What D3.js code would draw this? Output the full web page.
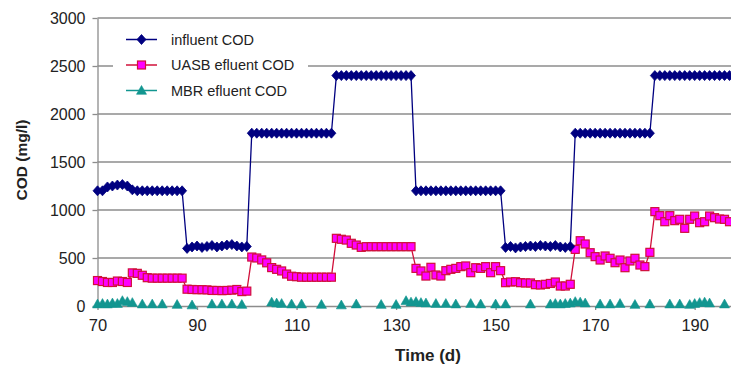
<!DOCTYPE html>
<html>
<head>
<meta charset="utf-8">
<script src="https://cdn.jsdelivr.net/npm/d3@7"></script>
<style>
  body { margin: 0; background: #fff; }
  svg { display: block; font-family: Arial, "Liberation Sans", sans-serif; }
</style>
</head>
<body>
<div id="chart"></div>
<script>
// days (x categories)
const days = [
  70, 71, 72, 73, 74, 75, 76, 77, 78, 79, 80, 81, 82, 83, 84, 85, 86, 87, 88, 89,
  90, 91, 92, 93, 94, 95, 96, 97, 98, 99, 100, 101, 102, 103, 104, 105, 106, 107, 108, 109,
  110, 111, 112, 113, 114, 115, 116, 117, 118, 119, 120, 121, 122, 123, 124, 125, 126, 127, 128, 129,
  130, 131, 132, 133, 134, 135, 136, 137, 138, 139, 140, 141, 142, 143, 144, 145, 146, 147, 148, 149,
  150, 151, 152, 153, 154, 155, 156, 157, 158, 159, 160, 161, 162, 163, 164, 165, 166, 167, 168, 169,
  170, 171, 172, 173, 174, 175, 176, 177, 178, 179, 180, 181, 182, 183, 184, 185, 186, 187, 188, 189,
  190, 191, 192, 193, 194, 195, 196, 197
];

const influent = [
  1200, 1200, 1240, 1250, 1260, 1265, 1250, 1210,
  1200, 1200, 1200, 1200, 1200, 1200, 1200, 1200, 1200, 1200,
  600, 615, 625, 610, 620, 630, 615, 625, 635, 640, 625, 615, 620,
  1800, 1800, 1800, 1800, 1800, 1800, 1800, 1800, 1800, 1800, 1800, 1800, 1800, 1800, 1800, 1800, 1800,
  2400, 2400, 2400, 2400, 2400, 2400, 2400, 2400, 2400, 2400, 2400, 2400, 2400, 2400, 2400, 2400,
  1200, 1200, 1200, 1200, 1200, 1200, 1200, 1200, 1200, 1200, 1200, 1200, 1200, 1200, 1200, 1200, 1200, 1200,
  610, 620, 605, 615, 620, 625, 620, 630, 625, 620, 630, 615, 610, 620,
  1800, 1800, 1800, 1800, 1800, 1800, 1800, 1800, 1800, 1800, 1800, 1800, 1800, 1800, 1800, 1800,
  2400, 2400, 2400, 2400, 2400, 2400, 2400, 2400, 2400, 2400, 2400, 2400, 2400, 2400, 2400, 2400
];

const uasb = [
  265, 255, 245, 245, 260, 255, 245,
  345, 340, 320, 295, 290, 290, 290, 290, 290, 290, 290,
  175, 172, 170, 170, 168, 162, 162, 160, 162, 165, 172, 150, 155,
  510, 500, 480, 450, 400, 382, 365, 333, 310, 305, 300, 300, 300, 300, 300, 300, 300,
  705, 695, 687, 653, 635, 611, 618, 618, 618, 618, 618, 618, 618, 618, 618, 618,
  392, 365, 312, 403, 323, 312, 368, 382, 392, 410, 417, 347, 399, 392, 410, 347, 410, 368,
  243, 250, 253, 243, 240, 240, 222, 219, 226, 235, 250, 208, 208, 226,
  590, 680, 646, 555, 514, 479, 521, 497, 451, 479, 399, 469, 497, 427, 410, 559,
  983, 941, 878, 941, 889, 903, 809, 903, 937, 868, 878, 937, 920, 906, 903, 878
];

// MBR effluent was not measured every day
const mbrDays = [
  70, 71, 72, 73, 74, 75, 76, 77, 79, 81, 83, 86, 89, 93, 95, 97, 99,
  105, 106, 107, 109, 111, 115, 119, 122, 127, 130, 132, 133, 134, 135, 136,
  138, 140, 142, 145, 147, 150, 152, 157, 161, 162, 163, 164, 165, 166, 167, 168,
  171, 173, 175, 178, 181, 185, 187, 189, 190, 191, 192, 193, 196
];
const mbr = [
  20, 25, 20, 30, 25, 55, 45, 35, 20, 20, 20, 15, 10, 20, 20, 20, 15,
  40, 30, 25, 20, 20, 15, 10, 20, 15, 15, 55, 40, 45, 35, 30,
  25, 25, 20, 25, 20, 20, 20, 20, 20, 25, 20, 25, 30, 45, 40, 30,
  20, 20, 25, 15, 20, 20, 20, 15, 25, 35, 40, 30, 20
];

const yTicks = [0, 500, 1000, 1500, 2000, 2500, 3000];
const xTicks = [70, 90, 110, 130, 150, 170, 190];

const W = 731, H = 367;
const plotLeft = 97.5, plotRight = 731, plotTop = 18, plotBottom = 306;

const svg = d3.select("#chart").append("svg")
  .attr("width", W)
  .attr("height", H);

const x = d3.scaleLinear().domain([70, 197.3]).range([plotLeft, plotRight]);
const y = d3.scaleLinear().domain([0, 3000]).range([plotBottom, plotTop]);

// gridlines
svg.append("g")
  .selectAll("line")
  .data(yTicks.filter(d => d > 0))
  .enter().append("line")
  .attr("x1", plotLeft).attr("x2", plotRight)
  .attr("y1", d => y(d)).attr("y2", d => y(d))
  .attr("stroke", "#8c8c8c")
  .attr("stroke-width", 1.3);

// y axis
const yAxis = svg.append("g")
  .attr("transform", "translate(" + plotLeft + ",0)")
  .call(d3.axisLeft(y).tickValues(yTicks).tickFormat(d3.format("d"))
    .tickSize(5).tickSizeOuter(0).tickPadding(7));
yAxis.select(".domain").attr("stroke", "#8c8c8c").attr("stroke-width", 1.3);
yAxis.selectAll(".tick line").attr("stroke", "#8c8c8c").attr("stroke-width", 1.3);
yAxis.selectAll("text")
  .attr("font-size", "16px")
  .attr("fill", "#222")
  .style("font-family", "Arial, 'Liberation Sans', sans-serif");

// x axis
const xAxis = svg.append("g")
  .attr("transform", "translate(0," + plotBottom + ")")
  .call(d3.axisBottom(x).tickValues(xTicks).tickFormat(d3.format("d"))
    .tickSize(4).tickSizeOuter(0).tickPadding(9));
xAxis.select(".domain").attr("stroke", "#8c8c8c").attr("stroke-width", 1.3);
xAxis.selectAll(".tick line").attr("stroke", "#8c8c8c").attr("stroke-width", 1.3);
xAxis.selectAll("text")
  .attr("font-size", "16.5px")
  .attr("fill", "#222")
  .style("font-family", "Arial, 'Liberation Sans', sans-serif");

// axis titles
svg.append("text")
  .attr("transform", "translate(27,160) rotate(-90)")
  .attr("text-anchor", "middle")
  .attr("font-size", "15.5px")
  .attr("font-weight", "bold")
  .attr("fill", "#222")
  .text("COD (mg/l)");

svg.append("text")
  .attr("x", 428)
  .attr("y", 361)
  .attr("text-anchor", "middle")
  .attr("font-size", "17px")
  .attr("font-weight", "bold")
  .attr("fill", "#222")
  .text("Time (d)");

// marker shapes
const diamond = "M0,-5L4.5,0L0,5L-4.5,0Z";
const triangle = "M0,-5L5,3.8L-5,3.8Z";

const series = [
  { name: "influent COD", color: "#000080", fill: "#000080", shape: "diamond",
    pts: days.map((d, i) => ({ day: d, v: influent[i] })) },
  { name: "UASB efluent COD", color: "#d0103a", fill: "#ff00ff", shape: "square",
    pts: days.map((d, i) => ({ day: d, v: uasb[i] })) },
  { name: "MBR efluent COD", color: "#129690", fill: "#129690", shape: "triangle",
    pts: mbrDays.map((d, i) => ({ day: d, v: mbr[i] })) }
];

// break a series where days are missing (empty cells shown as gaps)
function runs(pts) {
  const out = [];
  let cur = [];
  pts.forEach((p, i) => {
    if (i > 0 && p.day - pts[i - 1].day > 1) { out.push(cur); cur = []; }
    cur.push(p);
  });
  out.push(cur);
  return out;
}

const line = d3.line().x(d => x(d.day)).y(d => y(d.v));

function drawMarker(g, s, cx, cy) {
  if (s.shape === "diamond") {
    g.append("path").attr("d", diamond)
      .attr("transform", "translate(" + cx + "," + cy + ")")
      .attr("fill", s.fill).attr("stroke", s.color).attr("stroke-width", 0.8);
  } else if (s.shape === "square") {
    g.append("rect")
      .attr("x", cx - 4).attr("y", cy - 4)
      .attr("width", 8).attr("height", 8)
      .attr("fill", s.fill).attr("stroke", s.color).attr("stroke-width", 1.2);
  } else {
    g.append("path").attr("d", triangle)
      .attr("transform", "translate(" + cx + "," + cy + ")")
      .attr("fill", s.fill).attr("stroke", s.color).attr("stroke-width", 0.6);
  }
}

const plot = svg.append("g");
series.slice().reverse().forEach(s => {
  const g = plot.append("g");
  runs(s.pts).forEach(r => {
    if (r.length > 1) {
      g.append("path")
        .attr("d", line(r))
        .attr("fill", "none")
        .attr("stroke", s.color)
        .attr("stroke-width", 1.3);
    }
  });
  s.pts.forEach(p => drawMarker(g, s, x(p.day), y(p.v)));
});

// legend
const legend = svg.append("g");
legend.append("rect")
  .attr("x", 113).attr("y", 22)
  .attr("width", 195).attr("height", 86)
  .attr("fill", "#fff");

const legendY = [39.5, 65, 90.5];
series.forEach((s, i) => {
  const ly = legendY[i];
  legend.append("line")
    .attr("x1", 126).attr("x2", 157)
    .attr("y1", ly).attr("y2", ly)
    .attr("stroke", s.color).attr("stroke-width", 1.5);
  drawMarker(legend, s, 141.5, ly);
  legend.append("text")
    .attr("x", 171).attr("y", ly + 5)
    .attr("font-size", "14.5px")
    .attr("fill", "#222")
    .text(s.name);
});
</script>
</body>
</html>
